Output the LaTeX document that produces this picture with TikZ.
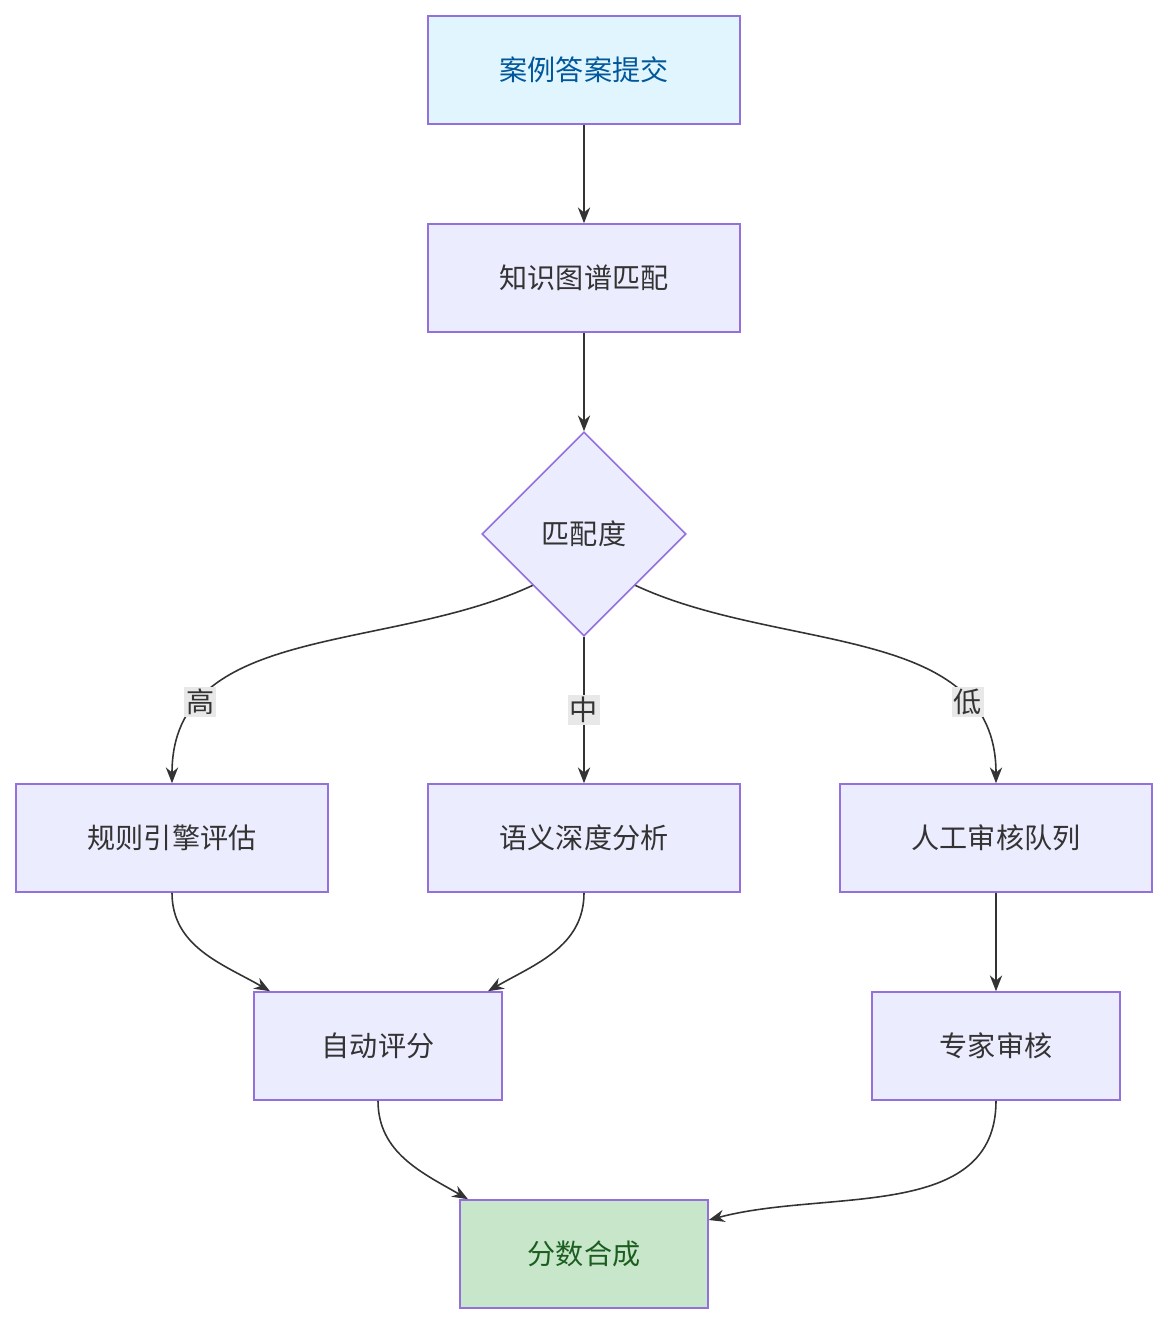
\documentclass[tikz,border=0pt]{standalone}
\usepackage{fontspec}
\setmainfont{Noto Sans CJK SC}
\usetikzlibrary{shapes.geometric, arrows.meta, positioning}
\definecolor{nodefill}{HTML}{ECECFF}
\definecolor{nodeline}{HTML}{9370DB}
\definecolor{startfill}{HTML}{E1F5FE}
\definecolor{starttext}{HTML}{01579B}
\definecolor{endfill}{HTML}{C8E6C9}
\definecolor{endtext}{HTML}{1B5E20}
\definecolor{linkcol}{HTML}{333333}
\definecolor{labelbg}{HTML}{E8E8E8}

\begin{document}
\begin{tikzpicture}[x=0.02cm, y=-0.02cm,
    % process box style
    procbox/.style={
        rectangle,
        draw=nodeline,
        fill=nodefill,
        line width=0.9pt,
        minimum width=6.24cm,
        minimum height=2.16cm,
        font=\fontsize{16}{18}\selectfont,
        text=linkcol
    },
    smallbox/.style={procbox, minimum width=4.96cm},
    % decision style
    choice/.style={
        diamond,
        draw=nodeline,
        fill=nodefill,
        line width=0.9pt,
        minimum width=4.08cm,
        minimum height=4.08cm,
        inner sep=0pt,
        font=\fontsize{16}{18}\selectfont,
        text=linkcol
    },
    link/.style={
        -{Stealth[length=9pt,width=7pt]},
        line width=0.9pt,
        linkcol
    },
    edgelabel/.style={
        fill=labelbg,
        inner sep=1pt,
        font=\fontsize{16}{18}\selectfont,
        text=linkcol
    }
]
\useasboundingbox (0,0) rectangle (1168,1324);

% === Top ===
\node[procbox, fill=startfill, text=starttext] (submit) at (584,70) {案例答案提交};
\node[procbox] (kgmatch) at (584,278) {知识图谱匹配};
\node[choice] (degree) at (584,534) {匹配度};

% === Branches ===
\node[procbox] (rules) at (172,838) {规则引擎评估};
\node[procbox] (semantic) at (584,838) {语义深度分析};
\node[procbox] (queue) at (996,838) {人工审核队列};

% === Lower ===
\node[smallbox] (autoscore) at (378,1046) {自动评分};
\node[smallbox] (expert) at (996,1046) {专家审核};
\node[smallbox, fill=endfill, text=endtext] (merge) at (584,1254) {分数合成};

% === Links ===
\draw[link] (submit) -- (kgmatch);
\draw[link] (kgmatch) -- (degree);
\draw[link] (degree.south west) to[out=205,in=90] node[edgelabel, pos=0.78] {高} (rules.north);
\draw[link] (degree.south) -- node[edgelabel, pos=0.5] {中} (semantic.north);
\draw[link] (degree.south east) to[out=-25,in=90] node[edgelabel, pos=0.78] {低} (queue.north);
\draw[link] (rules.south) to[out=-90,in=150] ([xshift=-2.16cm]autoscore.north);
\draw[link] (semantic.south) to[out=-90,in=30] ([xshift=2.2cm]autoscore.north);
\draw[link] (queue) -- (expert);
\draw[link] (autoscore.south) to[out=-90,in=150] ([xshift=-2.32cm]merge.north);
\draw[link] (expert.south) to[out=-90,in=15] ([yshift=0.68cm]merge.east);
\end{tikzpicture}
\end{document}
